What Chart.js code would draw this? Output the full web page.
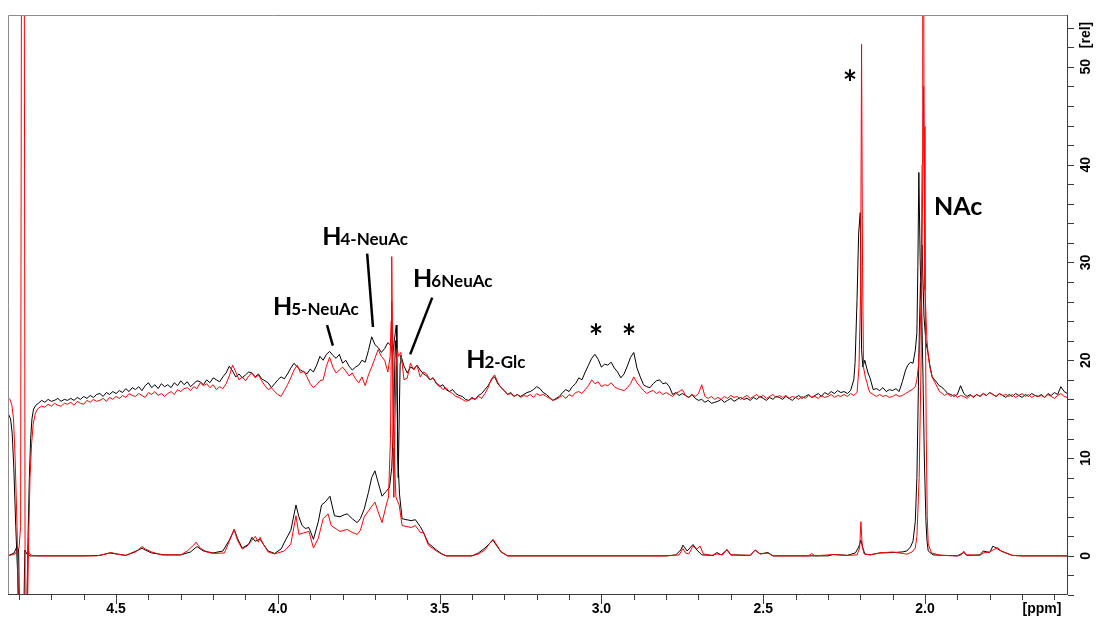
<!DOCTYPE html>
<html>
<head>
<meta charset="utf-8">
<script src="https://cdn.jsdelivr.net/npm/chart.js@4"></script>
<style>
  html, body { margin: 0; padding: 0; background: #fff; }
  #wrap { width: 1104px; height: 624px; }
</style>
</head>
<body>
<div id="wrap"><canvas id="nmr" width="1104" height="624"></canvas></div>
<script>
// Sampling grid of the upper (offset) spectra: 4.74 ppm down to 1.56 ppm every 0.01 ppm
const gridStart = 4.74;
const gridStep = 0.01;

// Upper spectra, one value per grid point (null where a sharp peak list below takes over)
const topBlack = [
  15.6, 15.9, 15.7, 16.0, 15.8, 15.9, 16.1, 15.8, 16.0, 15.9,
  16.1, 15.9, 16.2, 16.0, 16.3, 16.1, 16.4, 16.2, 16.5, 16.6,
  16.3, 16.7, 16.5, 16.8, 16.6, 16.9, 16.7, 17.1, 16.8, 17.2,
  17.0, 17.3, 16.9, 17.4, 17.7, 17.2, 17.5, 17.1, 17.6, 17.3,
  17.5, 17.2, 17.7, 17.4, 17.9, 17.5, 17.8, 17.3, 17.6, 17.9,
  17.8, 17.5, 18.0, 17.7, 18.2, 18.0, 17.8, 18.3, 18.7, 19.4,
  18.9, 18.3, 18.6, 18.2, 18.5, 18.8, 18.7, 18.3, 18.6, 18.1,
  17.9, 17.7, 17.2, 17.6, 18.0, 18.3, 18.1, 18.6, 19.2, 19.7,
  19.3, 19.0, 18.8, 18.6, 19.1, 18.8, 19.5, 20.4, 20.0, 20.6,
  20.9, 20.5, 20.2, 20.6, 19.7, 20.0, 19.4, 19.0, 19.3, 19.5,
  20.0, 19.8, 21.0, 22.4, 21.6, 21.3, 20.8, 21.2, 21.8, null,
  null, null, 20.5, 19.4, 18.7, 19.3, 19.1, 19.5, 19.0, 18.6,
  18.4, 18.0, 18.2, 17.6, 17.3, 17.5, 17.0, 16.8, 17.0, 16.6,
  16.4, 16.3, 16.0, 15.9, 16.2, 16.0, 16.4, 16.6, 17.0, 17.4,
  18.0, 18.3, 17.6, 17.2, 16.9, 16.5, 16.7, 16.3, 16.5, 16.3,
  16.5, 16.7, 16.8, 17.0, 17.3, 17.1, 16.7, 16.5, 16.2, 15.9,
  16.1, 16.3, 16.7, 17.0, 16.8, 17.3, 17.6, 18.2, 18.0, 18.8,
  19.5, 20.2, 20.6, 20.1, 19.3, 19.6, 19.5, 19.8, 19.2, 18.8,
  18.2, 18.6, 19.4, 20.3, 20.8, 19.2, 18.3, 17.5, 17.3, 17.2,
  17.6, 17.9, 18.0, 17.6, 17.7, 17.3, 16.5, 16.7, 16.4, 16.6,
  16.4, 16.2, 16.5, 16.1, 15.9, 16.0, 15.7, 15.9, 15.6, 15.7,
  15.8, 16.0, 15.7, 15.9, 16.1, 15.8, 16.0, 16.2, 16.0, 16.1,
  15.9, 16.2, 16.0, 16.3, 16.1, 15.9, 16.2, 16.0, 16.3, 16.2,
  16.0, 16.3, 16.1, 15.9, 16.2, 16.4, 16.1, 16.3, 16.5, 16.2,
  16.4, 16.6, 16.3, 16.7, 16.5, 16.8, 16.6, 16.9, 16.7, 16.8,
  16.6, 16.9, 18.0, null, null, null, null, 18.2, 17.0, 17.1,
  16.9, 17.2, 16.8, 17.0, 16.9, 17.1, 16.8, 17.8, null, null,
  null, null, null, null, null, null, null, null, null, 17.3,
  17.0, 16.6, 16.5, 16.3, 16.5, 17.4, 16.6, 16.3, 16.5, 16.2,
  16.5, 16.3, 16.6, 16.4, 16.7, 16.5, 16.3, 16.6, 16.4, 16.2,
  16.5, 16.3, 16.6, 16.4, 16.2, 16.5, 16.3, 16.6, 16.4, 16.3,
  16.5, 16.2, 16.6, 16.4, 16.7, 16.5, 17.3, 16.8, 16.6
];

const topRed = [
  15.1, 15.3, 15.2, 15.5, 15.3, 15.6, 15.4, 15.3, 15.6, 15.5,
  15.7, 15.4, 15.8, 15.6, 15.5, 15.9, 15.7, 16.0, 15.8, 15.9,
  16.1, 15.8, 16.2, 16.0, 16.3, 16.1, 16.4, 16.2, 16.6, 16.4,
  16.3, 16.6, 16.4, 16.2, 16.7, 16.5, 16.8, 16.4, 16.6, 16.3,
  16.6, 16.8, 16.5, 17.0, 16.8, 17.1, 17.2, 16.9, 17.3, 17.1,
  17.7, 17.4, 17.6, 17.2, 17.5, 17.0, 17.3, 17.1, 17.6, 18.4,
  19.5, 18.8, 18.0, 18.3, 17.9, 18.4, 18.7, 18.2, 18.5, 17.9,
  17.4, 17.0, 17.2, 16.8, 16.5, 16.3, 16.9, 17.5, 18.2, 19.0,
  19.5, 18.7, 18.9, 18.3, 17.6, 17.2, 17.5, 17.9, 18.0, 19.4,
  20.3, 19.3, 18.7, 19.0, 19.3, 18.9, 18.4, 18.7, 18.1, 17.7,
  18.3, 17.4, 18.5, 19.3, 20.2, 21.1, 20.4, 20.0, 18.8, null,
  null, null, 20.8, 18.0, 18.2, 19.7, 19.0, 19.5, 18.3, 18.8,
  18.6, 18.0, 18.2, 17.7, 17.4, 17.0, 17.2, 16.8, 16.6, 16.3,
  16.2, 16.0, 15.8, 15.9, 16.1, 16.0, 16.3, 16.1, 16.6, 17.2,
  18.1, 18.5, 17.7, 17.2, 16.9, 16.5, 16.6, 16.3, 16.5, 16.2,
  16.4, 16.3, 16.5, 16.2, 16.6, 16.4, 16.5, 16.3, 16.1, 15.9,
  16.0, 16.2, 16.4, 16.1, 16.5, 16.3, 16.7, 16.8, 16.6, 17.0,
  17.4, 18.0, 17.6, 17.8, 17.3, 17.5, 17.4, 17.7, 17.3, 17.1,
  17.0, 16.9, 17.2, 17.6, 18.3, 17.7, 17.3, 16.9, 16.6, 16.8,
  16.9, 16.6, 16.8, 16.5, 16.7, 16.5, 16.3, 16.6, 16.8, 17.0,
  16.4, 16.2, 16.5, 16.3, 16.6, 17.5, 16.3, 16.1, 16.3, 16.0,
  16.2, 16.0, 16.3, 16.1, 16.4, 16.2, 16.3, 16.0, 16.2, 16.4,
  16.1, 16.3, 16.5, 16.2, 16.4, 16.1, 16.3, 16.5, 16.2, 16.4,
  16.2, 16.4, 16.1, 16.3, 16.2, 16.0, 16.3, 16.1, 16.4, 16.2,
  16.3, 16.1, 16.4, 16.2, 16.3, 16.5, 16.2, 16.4, 16.3, 16.5,
  16.3, 16.6, 16.4, null, null, null, null, 16.7, 16.5, 16.3,
  16.5, 16.3, 16.4, 16.2, 16.3, 16.5, 16.3, 16.4, 16.6, 16.8,
  17.0, null, null, null, null, null, null, null, null, 16.7,
  16.4, 16.6, 16.3, 16.5, 16.2, 16.4, 16.3, 16.1, 16.4, 16.3,
  16.5, 16.3, 16.6, 16.4, 16.7, 16.5, 16.3, 16.6, 16.4, 16.5,
  16.3, 16.5, 16.2, 16.4, 16.6, 16.3, 16.5, 16.2, 16.4, 16.3,
  16.4, 16.2, 16.5, 16.3, 16.1, 16.4, 16.6, 16.3, 16.2
];

// Sharp features of the upper spectra, [ppm, rel]
const topBlackPeaks = [
  [4.834, 14.6], [4.826, 14.0], [4.821, 12.5], [4.816, 9], [4.810, 3], [4.804, -2], [4.799, -8],
  [4.777, -8], [4.772, 2], [4.768, 8], [4.764, 12], [4.760, 14], [4.755, 15.0], [4.748, 15.4],
  [3.650, 21.5], [3.645, 20.5], [3.641, 21.8], [3.637, 22.8], [3.634, 23.6], [3.632, 21],
  [3.630, 12], [3.628, 8], [3.625, 14], [3.622, 19.7],
  [2.216, 19.8], [2.210, 26.2], [2.205, 33], [2.200, 35.1], [2.196, 21.1], [2.192, 19.3],
  [2.186, 20.0], [2.180, 19.2], [2.176, 18.7],
  [2.060, 19.0], [2.053, 19.5], [2.045, 19.8], [2.037, 19.7], [2.030, 21.0], [2.025, 22.8],
  [2.022, 29.6], [2.019, 39.2], [2.015, 30.5], [2.012, 26.2], [2.009, 31.8], [2.006, 28.0],
  [2.003, 24.4], [1.997, 21.8], [1.991, 20.8], [1.985, 19.5], [1.978, 18.3], [1.970, 18.0],
  [1.963, 17.7], [1.956, 17.4]
];

const topRedPeaks = [
  [4.834, 16.2], [4.828, 16.0], [4.822, 15.4], [4.817, 14], [4.812, 10], [4.806, 3], [4.801, -8],
  [4.775, -8], [4.770, 2], [4.766, 8], [4.761, 11.5], [4.756, 13.5], [4.750, 14.5], [4.745, 14.9],
  [3.653, 20.4], [3.650, 24], [3.648, 30.6], [3.646, 22], [3.644, 11], [3.642, 6],
  [3.639, 12], [3.635, 19], [3.631, 21.2], [3.627, 20.4],
  [2.210, 16.7], [2.204, 19.3], [2.199, 26.9], [2.196, 52.3], [2.193, 29.6], [2.190, 19.3],
  [2.184, 18.2], [2.179, 17.7], [2.174, 17.0],
  [2.030, 17.3], [2.025, 18.0], [2.020, 19.5], [2.016, 22], [2.012, 26.2], [2.009, 40],
  [2.007, 62], [2.004, 62], [2.003, 43.9], [2.000, 27.2], [1.994, 22.1], [1.990, 20.5],
  [1.985, 19.3], [1.977, 18.2], [1.969, 17.7], [1.961, 17.2], [1.955, 16.8]
];

// Lower (reference) spectra, [ppm, rel]
const bottomBlack = [
  [4.834, 0], [4.815, 0.3], [4.806, 1.0], [4.801, 0.5], [4.798, -8], [4.786, -8], [4.782, 0.6],
  [4.776, 0.2], [4.765, 0], [4.60, 0], [4.55, 0.05], [4.52, 0.3], [4.50, 0.2], [4.47, 0.05],
  [4.43, 0.6], [4.42, 0.8], [4.41, 0.6], [4.39, 0.3], [4.35, 0.1], [4.30, 0.1], [4.27, 0.4],
  [4.25, 0.95], [4.23, 0.5], [4.20, 0.3], [4.17, 0.5], [4.15, 1.6], [4.135, 2.7], [4.125, 1.8],
  [4.11, 0.8], [4.09, 1.2], [4.08, 1.9], [4.07, 1.5], [4.055, 1.7], [4.045, 1.2], [4.03, 0.5],
  [4.01, 0.25], [3.99, 0.7], [3.975, 1.7], [3.96, 2.6], [3.944, 5.2], [3.935, 4.0], [3.925, 3.1],
  [3.915, 2.8], [3.904, 2.9], [3.89, 1.7], [3.875, 3.5], [3.865, 5.2], [3.854, 5.5], [3.839, 6.1],
  [3.825, 4.1], [3.808, 4.0], [3.795, 4.2], [3.786, 4.3], [3.77, 3.8], [3.755, 3.4], [3.745, 3.8],
  [3.733, 4.8], [3.72, 6.5], [3.71, 8.0], [3.70, 8.7], [3.69, 7.5], [3.678, 6.1], [3.665, 6.6],
  [3.655, 7], [3.648, 9], [3.642, 14], [3.637, 22], [3.633, 20], [3.629, 10], [3.624, 6.3],
  [3.616, 3.8], [3.588, 3.6], [3.575, 3.7], [3.56, 3.0], [3.55, 2.4], [3.535, 1.3], [3.51, 0.6],
  [3.495, 0.25], [3.48, 0], [3.40, 0], [3.38, 0.3], [3.36, 0.8], [3.345, 1.3], [3.335, 1.6],
  [3.325, 1.1], [3.31, 0.4], [3.29, 0], [2.80, 0], [2.77, 0.1], [2.755, 0.6], [2.748, 1.1],
  [2.735, 0.5], [2.717, 1.16], [2.705, 0.6], [2.69, 0.1], [2.655, 0.05], [2.643, 0.34], [2.63, 0.1],
  [2.612, 0.6], [2.60, 0.1], [2.54, 0.05], [2.525, 0.6], [2.51, 0.2], [2.485, 0.34], [2.47, 0],
  [2.30, 0], [2.284, 0.14], [2.24, 0.05], [2.215, 0.3], [2.205, 0.9], [2.198, 1.6], [2.192, 0.8],
  [2.186, 0.2], [2.17, 0.1], [2.14, 0.3], [2.10, 0.34], [2.07, 0.4], [2.056, 0.5], [2.045, 0.9],
  [2.037, 1.5], [2.03, 3.5], [2.025, 8], [2.022, 14], [2.018, 22], [2.014, 28], [2.010, 25],
  [2.006, 18], [2.002, 10], [1.997, 3.5], [1.994, 1.6], [1.99, 0.5], [1.975, 0.1], [1.90, 0],
  [1.88, 0.34], [1.87, 0.05], [1.83, 0.1], [1.82, 0.5], [1.80, 0.34], [1.79, 1.0], [1.775, 0.7],
  [1.765, 0.5], [1.75, 0.3], [1.73, 0.05], [1.70, 0], [1.558, 0]
];

const bottomRed = [
  [4.834, 0], [4.812, 0.2], [4.800, 0.8], [4.795, 3], [4.792, 70], [4.784, 70], [4.781, -8],
  [4.776, -8], [4.773, 1], [4.768, 0.2], [4.76, 0.05], [4.74, 0], [4.56, 0], [4.53, 0.2],
  [4.515, 0.35], [4.50, 0.2], [4.47, 0.05], [4.44, 0.4], [4.42, 0.95], [4.41, 0.7], [4.39, 0.4],
  [4.36, 0.1], [4.30, 0.1], [4.28, 0.5], [4.26, 1.1], [4.253, 1.4], [4.24, 0.8], [4.22, 0.4],
  [4.20, 0.25], [4.165, 0.3], [4.15, 1.5], [4.135, 2.7], [4.125, 1.6], [4.11, 0.7], [4.095, 1.0],
  [4.08, 1.6], [4.07, 2.0], [4.06, 1.4], [4.055, 1.9], [4.045, 1.2], [4.03, 0.4], [4.01, 0.2],
  [3.98, 0.5], [3.96, 1.2], [3.944, 4.1], [3.935, 2.2], [3.925, 2.3], [3.904, 2.5], [3.89, 0.8],
  [3.875, 1.8], [3.86, 3.8], [3.845, 4.3], [3.835, 3.1], [3.808, 2.5], [3.786, 2.7], [3.77, 2.4],
  [3.755, 2.2], [3.745, 2.6], [3.733, 4.0], [3.72, 4.6], [3.70, 5.5], [3.69, 4.5], [3.678, 3.4],
  [3.665, 5.2], [3.658, 6], [3.652, 12], [3.648, 26], [3.644, 20], [3.640, 10], [3.635, 6],
  [3.625, 5.2], [3.616, 3.1], [3.588, 2.9], [3.575, 3.1], [3.56, 2.4], [3.55, 2.4], [3.535, 1.1],
  [3.51, 0.5], [3.495, 0.2], [3.48, 0], [3.40, 0], [3.38, 0.2], [3.36, 0.6], [3.345, 1.3],
  [3.335, 1.7], [3.325, 1.2], [3.31, 0.4], [3.29, 0], [2.80, 0], [2.76, 0.1], [2.748, 0.75],
  [2.74, 0.3], [2.73, 0.2], [2.717, 1.0], [2.705, 0.7], [2.695, 1.0], [2.685, 0.2], [2.66, 0.05],
  [2.643, 0.2], [2.625, 0.1], [2.612, 0.68], [2.60, 0.1], [2.54, 0.05], [2.525, 0.6], [2.51, 0.2],
  [2.485, 0.28], [2.47, 0], [2.36, 0], [2.35, 0.24], [2.34, 0], [2.284, 0.14], [2.24, 0.05],
  [2.21, 0.1], [2.202, 0.8], [2.198, 3.5], [2.194, 1.0], [2.188, 0.2], [2.17, 0.1], [2.14, 0.3],
  [2.10, 0.4], [2.07, 0.25], [2.056, 0.17], [2.04, 0.4], [2.03, 0.8], [2.025, 2], [2.018, 8],
  [2.012, 20], [2.008, 35], [2.004, 48], [2.000, 30], [1.996, 12], [1.993, 4], [1.99, 1.2],
  [1.98, 0.3], [1.95, 0.05], [1.90, 0], [1.888, 0.1], [1.88, 0.48], [1.872, 0.1], [1.83, 0.05],
  [1.82, 0.3], [1.80, 0.4], [1.79, 0.6], [1.775, 0.85], [1.765, 0.5], [1.75, 0.3], [1.73, 0.05],
  [1.70, 0], [1.558, 0]
];

const xTickLabels = ['4.5', '4.0', '3.5', '3.0', '2.5', '2.0'];
const yTickLabels = ['0', '10', '20', '30', '40', '50'];

// grid values + sharp peak points, sorted along the reversed ppm axis
function spectrum(gridVals, peaks) {
  const pts = [];
  gridVals.forEach(function (v, i) {
    if (v !== null) pts.push({ x: +(gridStart - i * gridStep).toFixed(3), y: v });
  });
  peaks.forEach(function (p) { pts.push({ x: p[0], y: p[1] }); });
  pts.sort(function (a, b) { return b.x - a.x; });
  return pts;
}

function pairs(list) {
  return list.map(function (p) { return { x: p[0], y: p[1] }; });
}

const tickFont = 'bold 14px "Liberation Sans Narrow", "Liberation Sans", Arial, sans-serif';
const labelFont = '"Lato", "Open Sans", sans-serif';

// Frame, axes and peak assignments drawn on top of the spectra
const nmrDecor = {
  id: 'nmrDecor',
  afterDatasetsDraw: function (chart) {
    const ctx = chart.ctx;
    const a = chart.chartArea;
    const xs = chart.scales.x;
    const ys = chart.scales.y;
    const px = function (v) { return xs.getPixelForValue(v); };
    const py = function (v) { return ys.getPixelForValue(v); };

    ctx.save();
    ctx.lineWidth = 1;

    // frame
    ctx.strokeStyle = '#8c8c8c';
    ctx.beginPath();
    ctx.moveTo(a.left + 0.5, a.bottom);
    ctx.lineTo(a.left + 0.5, a.top + 0.5);
    ctx.lineTo(a.right, a.top + 0.5);
    ctx.stroke();
    ctx.strokeStyle = '#3c3c3c';
    ctx.beginPath();
    ctx.moveTo(a.right - 0.5, a.top);
    ctx.lineTo(a.right - 0.5, a.bottom - 0.5);
    ctx.lineTo(a.left, a.bottom - 0.5);
    ctx.stroke();

    // x ticks every 0.1 ppm
    ctx.beginPath();
    for (let k = 16; k <= 48; k++) {
      const x = Math.round(px(k / 10)) + 0.5;
      if (x < a.left || x > a.right) continue;
      const len = k % 5 === 0 ? 9 : 5;
      ctx.moveTo(x, a.bottom);
      ctx.lineTo(x, a.bottom + len);
    }
    // y ticks every 2
    for (let v = -4; v <= 54; v += 2) {
      const y = Math.round(py(v)) + 0.5;
      ctx.moveTo(a.right, y);
      ctx.lineTo(a.right + 6, y);
    }
    ctx.stroke();

    ctx.fillStyle = '#000';
    ctx.font = tickFont;
    ctx.textAlign = 'center';
    ctx.textBaseline = 'middle';
    xTickLabels.forEach(function (t) {
      ctx.fillText(t, px(parseFloat(t)), a.bottom + 14);
    });
    ctx.fillText('[ppm]', a.right - 26, a.bottom + 14);

    yTickLabels.forEach(function (t) {
      ctx.save();
      ctx.translate(a.right + 18, py(parseFloat(t)));
      ctx.rotate(-Math.PI / 2);
      ctx.fillText(t, 0, 0);
      ctx.restore();
    });
    ctx.save();
    ctx.translate(a.right + 18, a.top + 20);
    ctx.rotate(-Math.PI / 2);
    ctx.fillText('[rel]', 0, 0);
    ctx.restore();

    // assignments
    ctx.textAlign = 'left';
    ctx.textBaseline = 'alphabetic';
    const hLabel = function (sub, ppm, val) {
      const x = px(ppm), y = py(val);
      ctx.font = 'bold 25px ' + labelFont;
      ctx.fillText('H', x, y);
      const w = ctx.measureText('H').width;
      ctx.font = 'bold 17px ' + labelFont;
      ctx.fillText(sub, x + w - 1, y);
    };
    hLabel('4-NeuAc', 3.863, 31.8);
    hLabel('5-NeuAc', 4.015, 24.6);
    hLabel('6NeuAc', 3.582, 27.5);
    hLabel('2-Glc', 3.418, 19.2);

    ctx.font = 'bold 25px ' + labelFont;
    ctx.fillText('NAc', px(1.972), py(34.9));

    ctx.font = 'bold 34px ' + labelFont;
    ctx.textAlign = 'center';
    [[2.232, 49.1], [3.017, 23.1], [2.915, 23.1]].forEach(function (s) {
      ctx.fillText('*', px(s[0]), py(s[1]) + 19);
    });

    // leader lines
    ctx.strokeStyle = '#000';
    ctx.lineWidth = 2.5;
    [[3.724, 30.9, 3.706, 23.4], [3.848, 23.6, 3.830, 21.5], [3.523, 26.4, 3.591, 20.6]].forEach(function (l) {
      ctx.beginPath();
      ctx.moveTo(px(l[0]), py(l[1]));
      ctx.lineTo(px(l[2]), py(l[3]));
      ctx.stroke();
    });
    ctx.restore();
  }
};

const chart = new Chart(document.getElementById('nmr').getContext('2d'), {
  type: 'line',
  data: {
    datasets: [
      { data: spectrum(topRed, topRedPeaks), borderColor: '#ff0000', order: 0 },
      { data: pairs(bottomRed), borderColor: '#ff0000', order: 0 },
      { data: spectrum(topBlack, topBlackPeaks), borderColor: '#000000', order: 1 },
      { data: pairs(bottomBlack), borderColor: '#000000', order: 1 }
    ]
  },
  options: {
    responsive: false,
    animation: false,
    devicePixelRatio: 1,
    layout: { padding: { left: 8, top: 15, right: 36, bottom: 29 } },
    elements: {
      point: { radius: 0 },
      line: { borderWidth: 1, tension: 0 }
    },
    plugins: {
      legend: { display: false },
      tooltip: { enabled: false }
    },
    scales: {
      x: { type: 'linear', reverse: true, min: 1.558, max: 4.834, display: false },
      y: { type: 'linear', min: -4.0, max: 55.3, display: false }
    }
  },
  plugins: [nmrDecor]
});
</script>
</body>
</html>
